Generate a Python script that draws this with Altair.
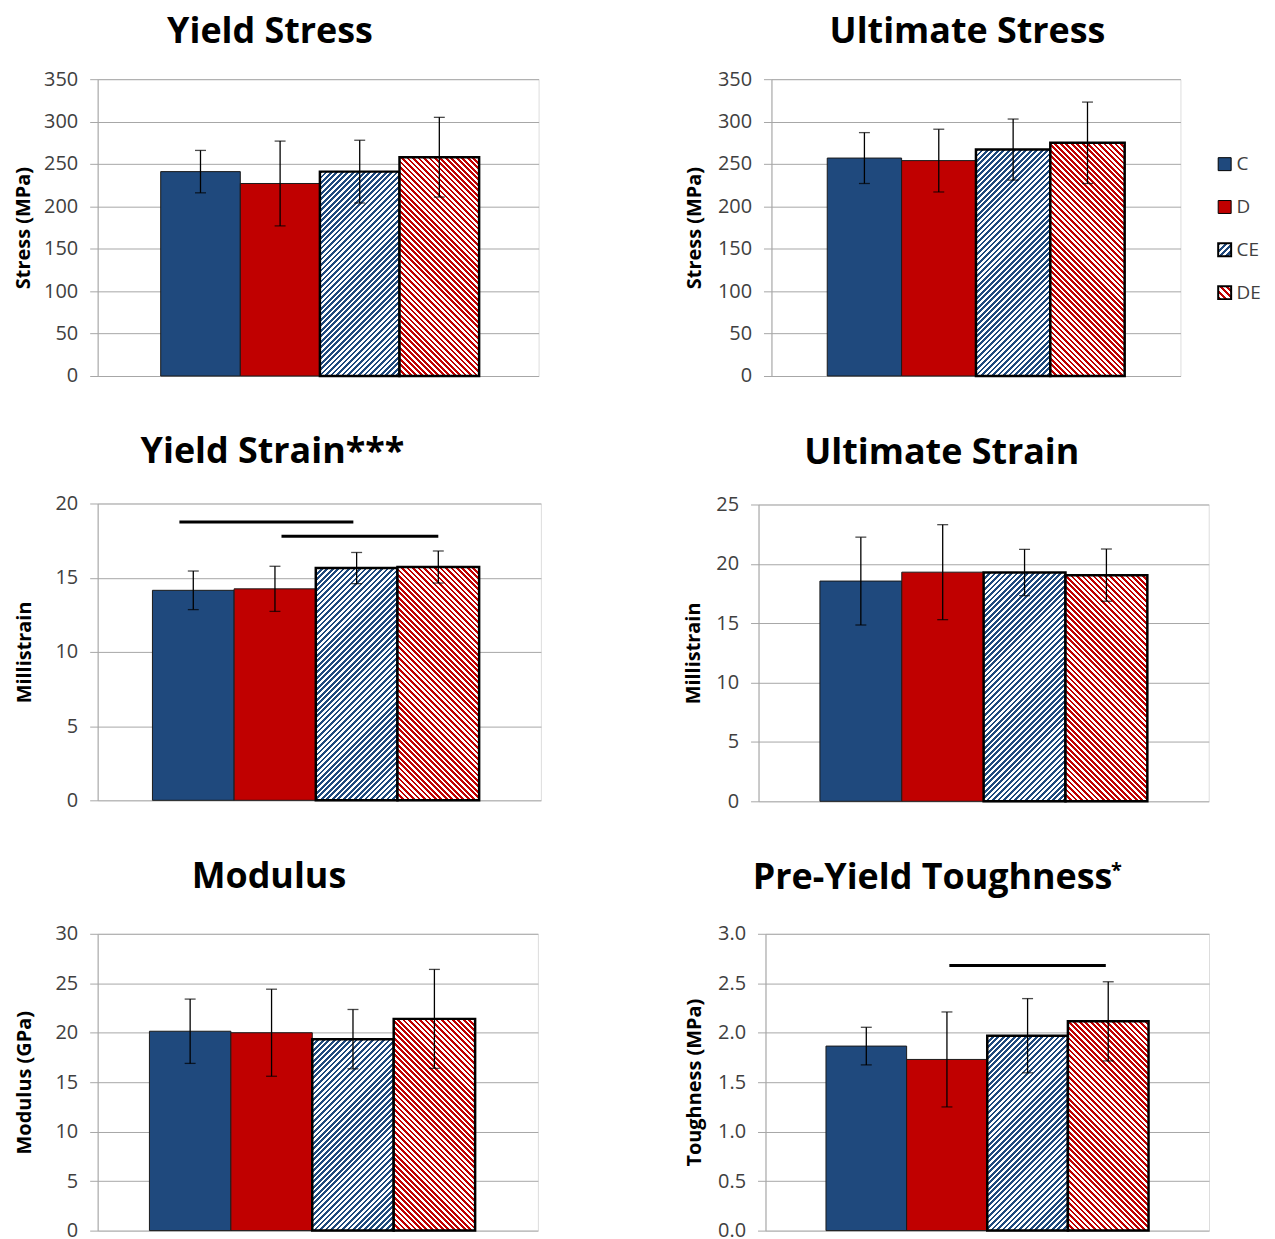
import altair as alt

# ---------------- data ----------------
groups = ["C", "D", "CE", "DE"]

yield_stress_mean = [241, 227, 241, 258]
yield_stress_err = [25, 50, 37, 47]
ult_stress_mean = [257, 254, 267, 275]
ult_stress_err = [30, 37, 36, 48]
yield_strain_mean = [14.15, 14.25, 15.65, 15.72]
yield_strain_err = [1.3, 1.52, 1.05, 1.08]
ult_strain_mean = [18.55, 19.3, 19.27, 19.05]
ult_strain_err = [3.7, 4.0, 1.95, 2.2]
modulus_mean = [20.15, 20.0, 19.35, 21.4]
modulus_err = [3.25, 4.4, 3.0, 5.0]
tough_mean = [1.865, 1.73, 1.97, 2.115]
tough_err = [0.19, 0.48, 0.375, 0.40]

# significance bars (start/end in group-index units, height in data units)
yield_strain_sig_start = [-0.17, 1.08]
yield_strain_sig_end = [1.96, 3.0]
yield_strain_sig_y = [18.75, 17.8]
tough_sig_start = [1.03]
tough_sig_end = [2.97]
tough_sig_y = [2.68]

stress_ticks = [0, 50, 100, 150, 200, 250, 300, 350]
yield_strain_ticks = [0, 5, 10, 15, 20]
ult_strain_ticks = [0, 5, 10, 15, 20, 25]
modulus_ticks = [0, 5, 10, 15, 20, 25, 30]
tough_ticks = [0, 0.5, 1.0, 1.5, 2.0, 2.5, 3.0]

# ---------------- styles ----------------
BLUE = "#1F497D"
RED = "#C00000"
series_color = [BLUE, RED, BLUE, RED]
series_hatch = [None, None, "up", "down"]
FONT = "Open Sans"
GRID = "#A6A6A6"
PLOT_H = 298
PERIOD = 5.5


def make_stops(color, w, h, period=PERIOD, frac=0.5):
    total = w + h
    pt = period / total
    stops = []
    n = 0
    while n * pt < 1:
        a = n * pt
        b = min(a + frac * pt, 1)
        c = min(a + pt, 1)
        stops += [
            {"offset": round(a, 5), "color": color},
            {"offset": round(b, 5), "color": color},
            {"offset": round(b, 5), "color": "#FFFFFF"},
            {"offset": round(c, 5), "color": "#FFFFFF"},
        ]
        n += 1
    return stops


def hatch(color, direction, w, h, period=PERIOD):
    k = h / w
    s = (1 + k) / (1 + k * k)
    stops = make_stops(color, w, h, period)
    if direction == "up":
        return {"gradient": "linear", "x1": 0, "y1": 0, "x2": s, "y2": s * k, "stops": stops}
    return {"gradient": "linear", "x1": 0, "y1": 1, "x2": s, "y2": 1 - s * k, "stops": stops}


def panel(title, mean, err, ymax, ticks, ytitle, width, xdom, fmt, title_dx, title_off,
          title_pad, sig=None, legend=False, star=None):
    bar_w = width / (xdom[1] - xdom[0])
    recs = []
    for i, g in enumerate(groups):
        h_px = mean[i] / ymax * PLOT_H
        if series_hatch[i] is None:
            fill = series_color[i]
        else:
            fill = hatch(series_color[i], series_hatch[i], bar_w, h_px)
        recs.append({"group": g, "i": i, "mean": mean[i], "lo": mean[i] - err[i],
                     "hi": mean[i] + err[i], "fill": fill,
                     "hatched": series_hatch[i] is not None})

    yaxis = alt.Axis(values=ticks, format=fmt, grid=True, gridColor=GRID, gridWidth=1,
                     domainColor=GRID, tickColor=GRID, tickSize=8, labelFont=FONT,
                     labelFontSize=20, labelColor="#404040", labelPadding=12,
                     labelFlush=False, labelOverlap=False, titleFont=FONT,
                     titleFontSize=20, titleFontWeight="bold", titleColor="black",
                     titlePadding=title_pad)
    yscale = alt.Scale(domain=[0, ymax], nice=False, zero=True)
    xscale = alt.Scale(domain=xdom, nice=False, zero=False)

    def Y(field):
        return alt.Y(field, type="quantitative", scale=yscale, axis=yaxis, title=ytitle)

    def X(field):
        return alt.X(field, type="quantitative", scale=xscale, axis=None)

    base = alt.Chart(alt.Data(values=recs)).transform_calculate(
        x0="datum.i - 0.5", x1="datum.i + 0.5", zero="0")

    solid = base.transform_filter("!datum.hatched").mark_rect(
        stroke="#1A1A1A", strokeWidth=1).encode(
        x=X("x0"), x2="x1:Q", y=Y("mean"), y2="zero:Q",
        fill=alt.Fill("fill:N", scale=None))
    hatched = base.transform_filter("datum.hatched").mark_rect(
        stroke="#000000", strokeWidth=2.5).encode(
        x=X("x0"), x2="x1:Q", y=Y("mean"), y2="zero:Q",
        fill=alt.Fill("fill:N", scale=None))
    ebar = base.mark_rule(color="black", strokeWidth=1.3).encode(
        x=X("i"), y=Y("lo"), y2="hi:Q")
    cap_hi = base.mark_tick(orient="horizontal", size=11, thickness=1.3,
                            color="black").encode(x=X("i"), y=Y("hi"))
    cap_lo = base.mark_tick(orient="horizontal", size=11, thickness=1.3,
                            color="black").encode(x=X("i"), y=Y("lo"))
    layers = [solid, hatched, ebar, cap_hi, cap_lo]

    if sig is not None:
        s0, s1, sy = sig
        srecs = [{"xs": a, "xe": b, "yv": c} for a, b, c in zip(s0, s1, sy)]
        layers.append(alt.Chart(alt.Data(values=srecs)).mark_rule(
            color="black", strokeWidth=3).encode(x=X("xs"), x2="xe:Q", y=Y("yv")))

    if star is not None:
        layers.append(alt.Chart(alt.Data(values=[{"t": "*"}])).mark_text(
            font=FONT, fontSize=20, fontWeight="bold", align="left",
            baseline="alphabetic", color="black").encode(
            text="t:N", x=alt.value(star[0]), y=alt.value(star[1])))

    main = alt.layer(*layers)

    tparams = alt.TitleParams(text=title, font=FONT, fontSize=36, fontWeight="bold",
                              color="black", anchor="middle", frame="group",
                              dx=title_dx, offset=title_off, baseline="alphabetic")

    if legend:
        lrecs = []
        for i, g in enumerate(groups):
            if series_hatch[i] is None:
                f = series_color[i]
                sw = 1
            else:
                f = hatch(series_color[i], series_hatch[i], 13, 13, period=6.5)
                sw = 2
            lrecs.append({"group": g, "li": i, "fill": f, "sw": sw})
        ly = alt.Y("li:Q", scale=alt.Scale(domain=[-1.984, 4.946], reverse=True,
                                           nice=False, zero=False), axis=None)
        lsq = alt.Chart(alt.Data(values=lrecs)).mark_square(
            size=169, stroke="black", opacity=1).encode(
            x=alt.value(455), y=ly, fill=alt.Fill("fill:N", scale=None),
            strokeWidth=alt.StrokeWidth("sw:Q", scale=None))
        ltx = alt.Chart(alt.Data(values=lrecs)).mark_text(
            align="left", baseline="middle", font=FONT, fontSize=19,
            color="#404040").encode(x=alt.value(467), y=ly, text="group:N")
        out = alt.layer(main, lsq, ltx).resolve_scale(y="independent")
    else:
        out = main
    return out.properties(width=width, height=PLOT_H, title=tparams)


tl = panel("Yield Stress", yield_stress_mean, yield_stress_err, 350, stress_ticks,
           "Stress (MPa)", 442.7, [-1.292, 4.247], "d", -48.3, -10, 9.7)
tr = panel("Ultimate Stress", ult_stress_mean, ult_stress_err, 350, stress_ticks,
           "Stress (MPa)", 410.6, [-1.25, 4.25], "d", -8.5, -10, 13.4, legend=True)
ml = panel("Yield Strain***", yield_strain_mean, yield_strain_err, 20, yield_strain_ticks,
           "Millistrain", 445, [-1.171, 4.256], "d", -47, -5.7, 21,
           sig=(yield_strain_sig_start, yield_strain_sig_end, yield_strain_sig_y))
mr = panel("Ultimate Strain", ult_strain_mean, ult_strain_err, 25, ult_strain_ticks,
           "Millistrain", 452, [-1.25, 4.25], "d", -42, -5, 12.1)
bl = panel("Modulus", modulus_mean, modulus_err, 30, modulus_ticks,
           "Modulus (GPa)", 442, [-1.136, 4.271], "d", -49, -0.3, 21)
br = panel("Pre-Yield Toughness", tough_mean, tough_err, 3.0, tough_ticks,
           "Toughness (MPa)", 445.3, [-1.25, 4.25], ".1f", -54.9, -64, 13.5,
           sig=(tough_sig_start, tough_sig_end, tough_sig_y), star=(347, -57))

chart = alt.concat(tl, tr, ml, mr, bl, br, columns=2, align="none", bounds="full",
                   spacing={"row": 47, "column": 141.5}).properties(
    padding={"left": 5, "top": 3, "right": 5, "bottom": 5}
).configure_view(stroke=GRID, strokeWidth=1).configure(background="white")

chart.save("out.html", embed_options={"renderer": "svg", "actions": False})
